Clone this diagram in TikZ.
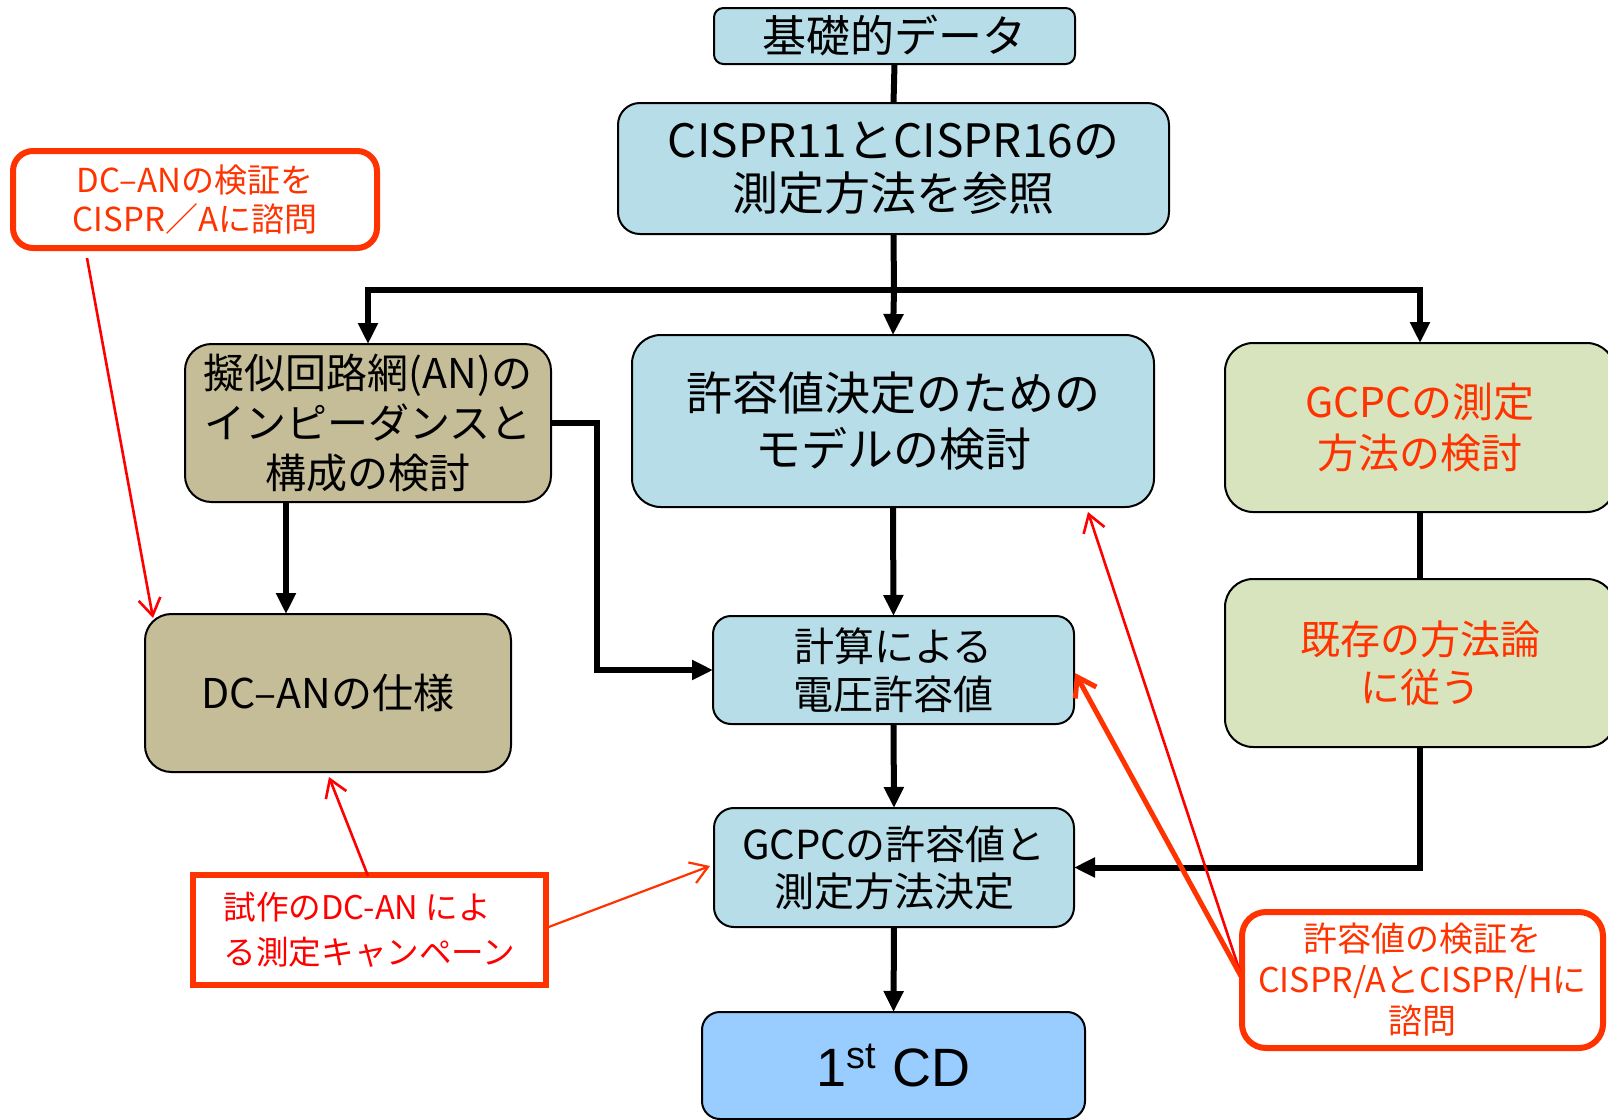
\documentclass[tikz,border=0pt]{standalone}
\usepackage{fontspec}
\setmainfont{Noto Sans CJK JP}
\newfontfamily\latf{Liberation Sans}
\usetikzlibrary{arrows.meta,calc}
\definecolor{cyanbox}{HTML}{B7DEE8}
\definecolor{tanbox}{HTML}{C4BD97}
\definecolor{greenbox}{HTML}{D7E4BD}
\definecolor{bluebox}{HTML}{99CCFF}
\definecolor{orred}{HTML}{FF3300}
\definecolor{pured}{HTML}{FF0000}
\newcommand\mkbox[7]{%
  \pgfmathsetmacro\mkbw{(#4-#2)*0.5}%
  \pgfmathsetmacro\mkbh{(#5-#3)*0.5}%
  \pgfmathsetmacro\mkbr{min(\mkbw,\mkbh)*0.167}%
  \node[inner sep=0pt, outer sep=0pt, align=center,
        minimum width=\mkbw pt, minimum height=\mkbh pt,
        rounded corners=\mkbr pt, #6] (#1) at ({(#2+#4)/2},{(#3+#5)/2}) {#7};%
}
\tikzset{
  mainbox/.style={draw=black, line width=1pt},
  fs/.style 2 args={font=\fontsize{#1}{#2}\selectfont},
  conn/.style={line width=3pt, draw=black},
  carr/.style={conn, -{Triangle[length=10.5pt,width=9.5pt]}},
  callout/.style={draw=orred, fill=white, line width=3pt},
  thinred/.style={draw=pured, line width=1.3pt, -{Straight Barb[length=8.5pt,width=11pt,line width=1.3pt]}},
  thinor/.style={draw=orred, line width=1.1pt, -{Straight Barb[length=8.5pt,width=11pt,line width=1.1pt]}},
  thickor/.style={draw=orred, line width=2.5pt, -{Straight Barb[length=9pt,width=12pt,line width=2.5pt]}},
}
\begin{document}
\begin{tikzpicture}[x=0.5pt,y=-0.5pt]
\useasboundingbox (0,0) rectangle (1608,1120);
\fill[white] (0,0) rectangle (1608,1120);
\clip (0,0) rectangle (1608,1120);

% main boxes
\mkbox{base}{714}{8}{1075}{64}{mainbox, fill=cyanbox, fs={22}{26}}{基礎的データ}
\mkbox{cispr}{618}{103}{1169}{234}{mainbox, fill=cyanbox, fs={23}{26.5}}{CISPR11とCISPR16の\\測定方法を参照}
\mkbox{an}{185}{344}{551}{502}{mainbox, fill=tanbox, fs={20.5}{25}}{擬似回路網(AN)の\\インピーダンスと\\構成の検討}
\mkbox{model}{632}{335}{1154}{507}{mainbox, fill=cyanbox, fs={23}{28}}{許容値決定のための\\モデルの検討}
\mkbox{gcpcm}{1225}{343}{1615}{512}{mainbox, fill=greenbox, text=orred, fs={20.5}{25.5}}{GCPCの測定\\方法の検討}
\mkbox{spec}{145}{614}{511}{772}{mainbox, fill=tanbox, fs={20.5}{25}}{DC–ANの仕様}
\mkbox{calc}{713}{616}{1074}{724}{mainbox, fill=cyanbox, fs={20}{24}}{計算による\\電圧許容値}
\mkbox{exist}{1225}{579}{1615}{747}{mainbox, fill=greenbox, text=orred, fs={20}{24}}{既存の方法論\\に従う}
\mkbox{decide}{714}{808}{1074}{927}{mainbox, fill=cyanbox, fs={20}{23.5}}{GCPCの許容値と\\測定方法決定}
\mkbox{cd}{702}{1012}{1085}{1119}{mainbox, fill=bluebox, fs={27}{30}}{{\latf 1\textsuperscript{st} CD}}

% black connectors
\coordinate (j) at (894,290);
\coordinate (anx) at (286,0);
\draw[conn] (base.south) -- (cispr.north);
\draw[conn] (cispr.south) -- (j);
\draw[carr] (j) -| (an.north);
\draw[carr] (j) -- (model.north);
\draw[carr] (j) -| (gcpcm.north);
\draw[carr] (an.south -| anx) -- (anx |- spec.north);
\draw[carr] (an.east) -- ++(46,0) |- (calc.west);
\draw[carr] (model.south) -- (calc.north);
\draw[carr] (calc.south) -- (decide.north);
\draw[conn] (gcpcm.south) -- (exist.north);
\draw[carr] (exist.south) |- (decide.east);
\draw[carr] (decide.south) -- (cd.north);

% callouts
\mkbox{cA}{13}{151}{377}{248}{callout, rounded corners=10pt, text=orred, fs={16.5}{19.5}}{DC–ANの検証を\\CISPR／Aに諮問}
\mkbox{cB}{193}{875}{546}{985}{callout, sharp corners, line width=3.3pt, text=pured, align=left, fs={16.3}{22.5}}{試作のDC-AN によ\\る測定キャンペーン}
\mkbox{cC}{1242}{912}{1603}{1048}{callout, rounded corners=12pt, text=orred, fs={17}{20.5}}{許容値の検証を\\CISPR/AとCISPR/Hに\\諮問}

% red arrows
\coordinate (a1) at (87,258);
\coordinate (a2) at (153,618);
\coordinate (b1) at (368,876);
\coordinate (b2) at (329,777);
\coordinate (b3) at (546,928);
\coordinate (b4) at (710,866);
\coordinate (c1) at (1242,978);
\coordinate (c2) at (1088,512);
\coordinate (c3) at (1075,673);
\draw[thinred] (a1) -- (a2);
\draw[thinred] (b1) -- (b2);
\draw[thinor] (b3) -- (b4);
\draw[thinred] (c1) -- (c2);
\draw[thickor] (c1) -- (c3);
\end{tikzpicture}
\end{document}
